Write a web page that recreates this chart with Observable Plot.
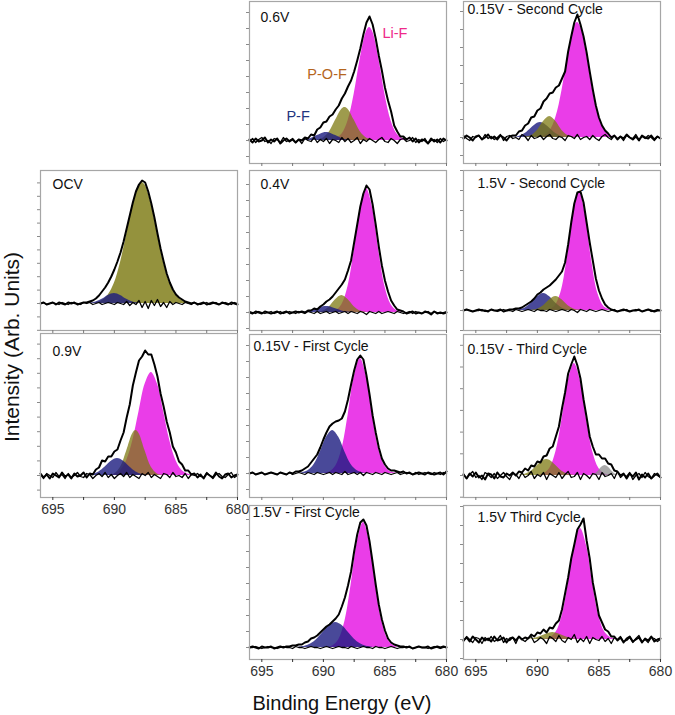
<!DOCTYPE html>
<html>
<head>
<meta charset="utf-8">
<script src="https://cdn.jsdelivr.net/npm/d3@7"></script>
<script src="https://cdn.jsdelivr.net/npm/@observablehq/plot@0.6"></script>
<style>
  html, body { margin: 0; padding: 0; background: #fff; }
  #chart { position: relative; width: 675px; height: 715px; overflow: hidden; font-family: "Liberation Sans", Arial, sans-serif; }
  #chart svg { position: absolute; overflow: visible; }
  .axis-title { position: absolute; white-space: nowrap; color: #111; font-size: 20px; font-family: "Liberation Sans", Arial, sans-serif; }
</style>
</head>
<body>
<div id="chart"></div>
<script>
// ---------- DATA ----------
// Binding energy grid (eV) shared by the measured spectra
const ENERGY = [696,695.75,695.5,695.25,695,694.75,694.5,694.25,694,693.75,693.5,693.25,693,692.75,692.5,692.25,692,691.75,691.5,691.25,691,690.75,690.5,690.25,690,689.75,689.5,689.25,689,688.75,688.5,688.25,688,687.75,687.5,687.25,687,686.75,686.5,686.25,686,685.75,685.5,685.25,685,684.75,684.5,684.25,684,683.75,683.5,683.25,683,682.75,682.5,682.25,682,681.75,681.5,681.25,681,680.75,680.5,680.25,680];

const PANEL_LABELS = ["0.6V","0.15V - Second Cycle","OCV","0.4V","1.5V - Second Cycle","0.9V","0.15V - First Cycle","0.15V - Third Cycle","1.5V - First Cycle","1.5V Third Cycle"];

const X_TICKS = [695, 692.5, 690, 687.5, 685, 682.5, 680];

// Measured spectra (intensity above background, arb. units)
const env06 = [1,-2,2,-1,0,3,-2,1,-1,2,-3,0,2,-1,1,-2, 1,0,3,2,6,5,11,13,18,19,24,26,31,35,42,47, 54,60,69,80,92,106,118,124,116,102,85,70,53,40,29,15, 9,4,4,1,3,-1,2,-2,1,0,-3,2,-1,1,-2,2,0];
const env215 = [-1,2,0,-3,1,2,-2,0,3,-1,1,-2,2,0,-3,1, 2,2,6,7,12,14,20,21,27,29,36,39,44,45,50,52, 59,66,86,101,115,123,113,101,85,66,48,32,20,12,7,4, 0,2,-2,1,-1,3,0,-2,1,-3,2,0,-1,2,-2,1,-1];
const envOCV = [0,1,-1,0,1,-1,1,0,-1,1,0,1,-1,0,1,1, 2,3,5,8,12,16,21,27,34,42,51,62,75,88,101,112, 119,123,121,112,100,86,70,55,42,30,21,14,9,6,4,2, 1,0,1,-1,0,1,-1,0,1,0,-1,1,0,-1,1,0,-1];
const env04 = [0,-1,1,0,-1,1,0,-1,0,1,-1,0,1,-1,0,1, 0,1,0,2,2,4,3,6,8,11,13,16,20,24,28,33, 42,52,70,88,106,119,127,123,108,88,66,47,32,21,12,7, 3,2,1,-1,0,1,-1,0,-1,1,0,-2,1,-1,0,-1,0];
const env152 = [0,1,0,-1,0,1,0,0,-1,1,0,0,1,-1,0,1, 1,2,2,3,5,7,9,12,16,18,21,23,25,28,31,35, 39,48,66,88,107,118,119,108,88,68,50,32,20,12,6,3, 1,0,-1,0,1,0,-1,0,0,1,-1,0,1,0,-1,0,0];
const env09 = [2,-2,1,-3,2,0,-2,3,-1,1,-3,2,-1,0,3,-2, 2,1,6,8,15,14,19,19,24,26,35,43,58,71,90,103, 115,119,125,121,121,111,99,82,69,54,43,29,23,14,11,5, 5,1,2,-2,1,-3,2,0,-2,3,-1,-3,1,2,-2,0,1];
const env151 = [0,1,-1,0,1,-1,0,1,0,-1,1,0,-1,1,0,2, 2,3,5,7,11,15,19,26,34,41,47,50,52,53,55,62, 74,89,103,114,118,114,98,79,58,41,26,15,9,5,3,3, 2,1,2,0,1,-1,0,1,0,-1,1,0,-1,0,1,-1,2];
const env153 = [1,-3,2,-1,3,-2,0,-4,2,1,-3,3,-1,-2,2,0, 3,0,4,3,7,5,10,9,14,13,19,20,27,29,39,49, 67,83,102,111,119,110,97,76,58,39,29,21,21,17,17,12, 11,5,4,0,2,-3,2,-1,3,-4,1,-2,2,-3,0,2,-2];
const env151b = [0,1,0,-1,1,0,0,1,-1,0,1,0,1,1,2,2, 3,3,5,6,9,10,12,15,18,21,23,26,29,33,41,50, 62,76,96,113,125,128,122,106,85,63,43,28,17,9,5,3, 2,1,1,0,1,-1,0,1,0,0,1,-1,0,1,0,1,0];
const env153b = [-1,2,-2,3,0,-3,2,-1,1,-2,3,-1,0,2,-3,1, 2,-1,3,0,2,1,5,3,7,6,10,7,12,11,16,19, 30,46,62,81,95,110,115,121,99,81,57,41,24,17,10,8, 3,3,-1,2,-3,1,3,-2,0,2,-3,1,-1,3,-2,0,1];

// Noisy background traces along the baseline
const res06 = [-1,2,-2,1,3,-1,0,-3,2,1,-2,3,-1,0,2,-2,1,-3,2,0,-1,3,-2,1,-1,2,-3,1,0,-2,3,-1,2,-2,0,3,-3,1,-1,2,0,-2,1,3,-1,-2,2,0,-3,1,2,-1,0,3,-2,1,-1,2,-3,0,1,-2,2,-1,1];
const res215 = [2,-1,-3,1,0,2,-2,3,-1,1,-2,0,3,-3,1,2,-1,0,-2,3,1,-3,2,-1,0,2,-2,1,3,-1,-2,1,0,-3,2,1,-1,3,-2,0,1,-2,2,-1,-3,1,3,0,-2,2,-1,1,-3,2,0,-1,3,-2,1,-1,2,0,-3,1,-1];
const resOCV = [0,1,-1,0,1,0,-1,1,0,-1,1,0,0,-1,1,0,1,-1,0,1,-1,0,1,0,-1,1,0,-1,2,-2,1,-1,3,-4,2,-5,3,-2,4,-3,1,-4,2,-1,1,0,-1,1,0,-1,1,0,-1,0,1,-1,0,1,-1,0,1,0,-1,1,0];
const res04 = [1,0,-1,1,0,-1,0,1,-1,0,1,-1,0,1,0,-1,1,0,-1,1,0,-1,1,-1,0,1,-1,0,1,-1,0,1,-1,1,0,-1,1,0,-2,1,0,-1,1,-1,0,1,0,-1,1,0,-1,0,1,-1,1,0,-1,0,1,-1,1,0,-1,0,1];
const res152 = [0,1,0,-1,0,0,1,-1,0,1,0,-1,0,1,0,0,-1,1,0,-1,0,1,0,-1,1,0,0,-1,1,0,-1,0,1,0,-1,1,0,-2,1,0,-1,1,0,-1,0,1,0,-1,0,1,-1,0,0,1,-1,0,1,0,-1,0,1,-1,0,1,0];
const res09 = [1,-3,2,0,-2,3,-1,1,-3,2,-2,0,3,-1,-2,2,1,-3,0,2,-1,3,-2,1,-3,0,2,-1,3,-2,1,-1,-3,2,0,3,-2,1,-1,-3,2,1,-2,3,-1,0,-2,2,-3,1,0,2,-1,-2,3,0,-3,1,2,-1,-2,1,3,-2,0];
const res151 = [0,1,-1,0,1,-1,0,1,0,-1,1,0,-1,1,-1,0,1,0,-1,1,0,-1,1,0,-1,0,1,-1,1,0,-1,2,-1,0,1,-1,1,-2,1,0,-1,1,0,-1,1,0,-1,0,1,-1,0,1,0,-1,1,-1,0,1,0,-1,1,0,-1,1,0];
const res153 = [2,-3,1,4,-2,0,-4,3,1,-2,2,-3,0,3,-1,-4,2,1,-3,3,-2,0,4,-3,1,-1,3,-4,2,0,-2,3,-3,1,4,-2,-1,3,-4,2,0,-3,2,1,-4,3,-1,0,2,-3,4,-2,1,-1,3,-4,0,2,-2,3,-1,-3,2,0,-2];
const res151b = [0,0,1,0,-1,0,1,0,0,-1,0,1,0,0,-1,1,0,0,-1,0,1,0,0,-1,0,1,0,-1,0,1,0,0,-1,1,0,-1,0,1,0,0,-1,1,0,0,-1,0,1,0,-1,0,0,1,0,-1,0,1,0,0,-1,0,1,0,-1,0,1];
const res153b = [-2,3,0,-3,2,1,-4,2,-1,3,-2,0,4,-3,1,-1,2,-4,3,0,-2,1,3,-3,-1,2,0,-4,3,1,-2,4,-1,-3,2,0,5,-3,1,-2,3,-4,2,0,-1,3,-2,1,-4,2,0,3,-2,-1,2,-3,1,4,-2,0,-3,2,1,-2,0];

// Fitted components: [binding energy, intensity]
const lif06 = [[689.5,0.3],[689,1.5],[688.5,6.2],[688,19.5],[687.5,46.2],[687,81.9],[686.5,109],[686.25,113],[686,109],[685.5,81.9],[685,46.2],[684.5,19.5],[684,6.2],[683.5,1.5],[683,0.3]];
const pof06 = [[690.5,0.4],[690,2.4],[689.5,8.7],[689,20.4],[688.5,31.3],[688.25,33],[688,31.3],[687.5,20.4],[687,8.7],[686.5,2.4],[686,0.4]];
const pf06 = [[692,0.1],[691.5,0.6],[691,2.1],[690.5,4.9],[690,7.6],[689.75,8],[689.5,7.6],[689,4.9],[688.5,2.1],[688,0.6],[687.5,0.1]];

const lif215 = [[690,0.3],[689.5,1.5],[689,6.3],[688.5,19.9],[688,47],[687.5,83.4],[687,111],[686.75,115],[686.5,111],[686,83.4],[685.5,47],[685,19.9],[684.5,6.3],[684,1.5],[683.5,0.3]];
const pf215 = [[692,0.2],[691.5,1.1],[691,3.9],[690.5,9.3],[690,14.2],[689.75,15],[689.5,14.2],[689,9.3],[688.5,3.9],[688,1.1],[687.5,0.2]];
const pof215 = [[691,0.3],[690.5,1.8],[690,7.1],[689.5,16],[689,21],[688.5,16],[688,7.1],[687.5,1.8],[687,0.3]];

const pofOCV = [[691.75,0.4],[691.5,0.8],[691,2.9],[690.5,8.4],[690,20.2],[689.5,41],[689,69.6],[688.5,99.2],[688,118.3],[687.75,121],[687.5,118.3],[687,99.2],[686.5,69.6],[686,41],[685.5,20.2],[685,8.4],[684.5,2.9],[684,0.8],[683.75,0.4]];
const pfOCV = [[692,0.3],[691.5,1.5],[691,4.2],[690.5,8.1],[690,10],[689.5,8.1],[689,4.2],[688.5,1.5],[688,0.3]];

const lif04 = [[689.5,0.2],[689,1.6],[688.5,7.8],[688,26],[687.5,62],[687,104.3],[686.5,124],[686,104.3],[685.5,62],[685,26],[684.5,7.8],[684,1.6],[683.5,0.2]];
const pof04 = [[690.5,0.2],[690,1.5],[689.5,5.8],[689,13],[688.5,17],[688,13],[687.5,5.8],[687,1.5],[686.5,0.2]];
const pf04 = [[692,0.1],[691.5,0.4],[691,1.6],[690.5,3.7],[690,5.7],[689.75,6],[689.5,5.7],[689,3.7],[688.5,1.6],[688,0.4],[687.5,0.1]];

const lif152 = [[689.1,0.6],[688.6,3.9],[688.1,17.4],[687.6,50.6],[687.1,96],[686.6,119],[686.1,96],[685.6,50.6],[685.1,17.4],[684.6,3.9],[684.1,0.6]];
const pf152 = [[691.75,0.2],[691.5,0.6],[691,2.5],[690.5,7.2],[690,13.7],[689.5,17],[689,13.7],[688.5,7.2],[688,2.5],[687.5,0.6],[687.25,0.2]];
const pof152 = [[690.5,0.2],[690,1.2],[689.5,4.7],[689,10.7],[688.5,14],[688,10.7],[687.5,4.7],[687,1.2],[686.5,0.2]];

const lif09 = [[690.5,0.4],[690,1.3],[689.5,5],[689,15],[688.5,34.9],[688,63.7],[687.5,91.4],[687,103],[686.5,91.4],[686,63.7],[685.5,34.9],[685,15],[684.5,5],[684,1.3],[683.5,0.4]];
const pof09 = [[690.5,0.2],[690,1.6],[689.5,8.3],[689,24.5],[688.5,42.1],[688.25,45],[688,42.1],[687.5,24.5],[687,8.3],[686.5,1.6],[686,0.2]];
const pf09 = [[692.25,0.2],[691.75,1.1],[691.25,3.6],[690.75,8.5],[690.25,14.3],[689.75,17],[689.25,14.3],[688.75,8.5],[688.25,3.6],[687.75,1.1],[687.25,0.2]];

const lif151 = [[690,0.2],[689.5,1.5],[689,7.2],[688.5,24.2],[688,57.5],[687.5,96.7],[687,115],[686.5,96.7],[686,57.5],[685.5,24.2],[685,7.2],[684.5,1.5],[684,0.2]];
const pf151 = [[692.25,0.1],[691.75,0.6],[691.25,2.7],[690.75,9],[690.25,21.5],[689.75,36.2],[689.25,43],[688.75,36.2],[688.25,21.5],[687.75,9],[687.25,2.7],[686.75,0.6],[686.25,0.1]];

const lif153 = [[690,0.2],[689.5,1.5],[689,7],[688.5,23.5],[688,56],[687.5,94.2],[687,112],[686.5,94.2],[686,56],[685.5,23.5],[685,7],[684.5,1.5],[684,0.2]];
const pof153 = [[691.5,0.2],[691,1.2],[690.5,4.2],[690,9.9],[689.5,15.2],[689.25,16],[689,15.2],[688.5,9.9],[688,4.2],[687.5,1.2],[687,0.2]];
const gray153 = [[685.75,0.1],[685.5,0.6],[685.25,2.1],[685,5],[684.75,8.4],[684.5,10],[684.25,8.4],[684,5],[683.75,2.1],[683.5,0.6],[683.25,0.1]];

const lif151b = [[689.75,0.25],[689.25,1.6],[688.75,7.8],[688.25,26.3],[687.75,62.5],[687.25,105.1],[686.75,125],[686.25,105.1],[685.75,62.5],[685.25,26.3],[684.75,7.8],[684.25,1.6],[683.75,0.25]];
const pf151b = [[692,0.3],[691.5,1.2],[691,3.7],[690.5,8.5],[690,15.5],[689.5,22.2],[689,25],[688.5,22.2],[688,15.5],[687.5,8.5],[687,3.7],[686.5,1.2],[686,0.3]];

const lif153b = [[689.5,0.2],[689,1.5],[688.5,6.9],[688,23.3],[687.5,55.5],[687,93.4],[686.5,111],[686,93.4],[685.5,55.5],[685,23.3],[684.5,6.9],[684,1.5],[683.5,0.2]];
const pof153b = [[690.75,0.2],[690.25,1],[689.75,3],[689.25,5.6],[688.75,7],[688.25,5.6],[687.75,3],[687.25,1],[686.75,0.2]];

// Peak annotations in the 0.6V panel
const ANNOT_TEXT = ["Li-F", "P-O-F", "P-F"];
const ANNOT_E = [685.2, 691.3, 693.0];
const ANNOT_I = [107, 66, 24];

// ---------- assembly ----------
const ENVELOPES = [env06, env215, envOCV, env04, env152, env09, env151, env153, env151b, env153b];
const RESIDUALS = [res06, res215, resOCV, res04, res152, res09, res151, res153, res151b, res153b];
const COMPONENTS = [
  [["LiF", lif06], ["POF", pof06], ["PF", pf06]],
  [["LiF", lif215], ["PF", pf215], ["POF", pof215]],
  [["POF", pofOCV], ["PF", pfOCV]],
  [["LiF", lif04], ["POF", pof04], ["PF", pf04]],
  [["LiF", lif152], ["PF", pf152], ["POF", pof152]],
  [["LiF", lif09], ["POF", pof09], ["PF", pf09]],
  [["LiF", lif151], ["PF", pf151]],
  [["LiF", lif153], ["GRAY", gray153], ["POF", pof153]],
  [["LiF", lif151b], ["PF", pf151b]],
  [["LiF", lif153b], ["POF", pof153b]]
];
// y domains (intensity units) per panel
const Y_DOMAINS = [[-23,139],[-26,136],[-27,133],[-18,142],[-20,140],[-22,142],[-24,139],[-22,141],[-12,142],[-20,134]];

// ---------- styling / layout ----------
const STYLE = {
  LiF: {fill: "#ea3de8", opacity: 1},
  POF: {fill: "#7d7a12", opacity: 0.75},
  PF: {fill: "#1c1c80", opacity: 0.8},
  GRAY: {fill: "#8c8c8c", opacity: 0.75}
};
const ANNOT_COLORS = ["#ee2a8a", "#b5651d", "#1f3580"];
const LAYOUT = [
  {x0:249,x1:446,y0:1,y1:163,tick:16,lx:11,ly:16,axis:false},
  {x0:463,x1:660,y0:1,y1:163,tick:18,lx:4,ly:8,axis:false},
  {x0:40,x1:237,y0:170,y1:330,tick:13.4,lx:12,ly:14,axis:false},
  {x0:249,x1:446,y0:170,y1:330,tick:16,lx:11,ly:14,axis:false},
  {x0:463,x1:660,y0:170,y1:330,tick:20,lx:14,ly:13,axis:false},
  {x0:40,x1:237,y0:333,y1:497,tick:14.6,lx:12,ly:18,axis:true},
  {x0:249,x1:446,y0:334,y1:497,tick:16,lx:4,ly:12,axis:false},
  {x0:463,x1:660,y0:334,y1:497,tick:21.7,lx:4,ly:15,axis:false},
  {x0:249,x1:446,y0:505,y1:659,tick:16,lx:3,ly:7,axis:true},
  {x0:463,x1:660,y0:505,y1:659,tick:19,lx:14,ly:12,axis:true}
];
const FONT = "Liberation Sans, Arial, sans-serif";

const chart = document.getElementById("chart");

PANEL_LABELS.forEach((label, i) => {
  const L = LAYOUT[i];
  const W = L.x1 - L.x0, H = L.y1 - L.y0;
  const yd = Y_DOMAINS[i];
  const env = ENERGY.map((E, j) => ({E, I: ENVELOPES[i][j]})).filter(d => d.I !== undefined);
  const res = ENERGY.map((E, j) => ({E, I: RESIDUALS[i][j]})).filter(d => d.I !== undefined);
  const yt = [];
  for (let v = 0; v >= yd[0]; v -= L.tick) yt.push(v);
  for (let v = L.tick; v <= yd[1]; v += L.tick) yt.push(v);

  const marks = [];
  for (const [kind, pts] of COMPONENTS[i]) {
    const st = STYLE[kind];
    const op = (kind === "POF" && label === "OCV") ? 0.82 : st.opacity;
    marks.push(Plot.areaY(pts, {x: d => d[0], y: d => d[1], fill: st.fill, fillOpacity: op, curve: "catmull-rom"}));
  }
  marks.push(Plot.lineY(res, {x: "E", y: "I", stroke: "#000", strokeWidth: 1.3}));
  marks.push(Plot.lineY(env, {x: "E", y: "I", stroke: "#000", strokeWidth: 2, strokeLinejoin: "round"}));
  marks.push(Plot.frame({stroke: "#a6a6a6", strokeWidth: 1.2}));
  marks.push(Plot.axisY(yt, {anchor: "left", tickSize: 3, tickFormat: () => "", stroke: "#8a8a8a", label: null}));
  if (L.axis) {
    marks.push(Plot.axisX(X_TICKS, {anchor: "bottom", tickSize: 3, tickPadding: 4, tickFormat: d => (d % 5 === 0 ? String(d) : ""), fontSize: 14, color: "#333", label: null}));
  } else {
    marks.push(Plot.axisX(X_TICKS, {anchor: "bottom", tickSize: 3, tickFormat: () => "", color: "#777", label: null}));
  }
  marks.push(Plot.text([label], {text: d => d, frameAnchor: "top-left", dx: L.lx, dy: L.ly, textAnchor: "start", lineAnchor: "middle", fontSize: 14, fill: "#111"}));
  if (i === 0) {
    ANNOT_TEXT.forEach((t, k) => {
      marks.push(Plot.text([{t, E: ANNOT_E[k], I: ANNOT_I[k]}], {x: "E", y: "I", text: "t", fill: ANNOT_COLORS[k], textAnchor: "start", fontSize: 14.5}));
    });
  }

  const svg = Plot.plot({
    width: W, height: H,
    marginTop: 0, marginRight: 0, marginBottom: 0, marginLeft: 0,
    x: {domain: [696, 680], axis: null},
    y: {domain: yd, axis: null},
    style: {background: "transparent", overflow: "visible", fontFamily: FONT},
    marks
  });
  svg.style.position = "absolute";
  svg.style.left = L.x0 + "px";
  svg.style.top = L.y0 + "px";
  svg.style.maxWidth = "none";
  chart.appendChild(svg);
});

const yTitle = document.createElement("div");
yTitle.className = "axis-title";
yTitle.textContent = "Intensity (Arb. Units)";
yTitle.style.left = "12px";
yTitle.style.top = "347px";
yTitle.style.fontSize = "21px";
yTitle.style.transform = "translate(-50%,-50%) rotate(-90deg)";
chart.appendChild(yTitle);

const xTitle = document.createElement("div");
xTitle.className = "axis-title";
xTitle.textContent = "Binding Energy (eV)";
xTitle.style.left = "342px";
xTitle.style.top = "703px";
xTitle.style.transform = "translate(-50%,-50%)";
chart.appendChild(xTitle);
</script>
</body>
</html>
